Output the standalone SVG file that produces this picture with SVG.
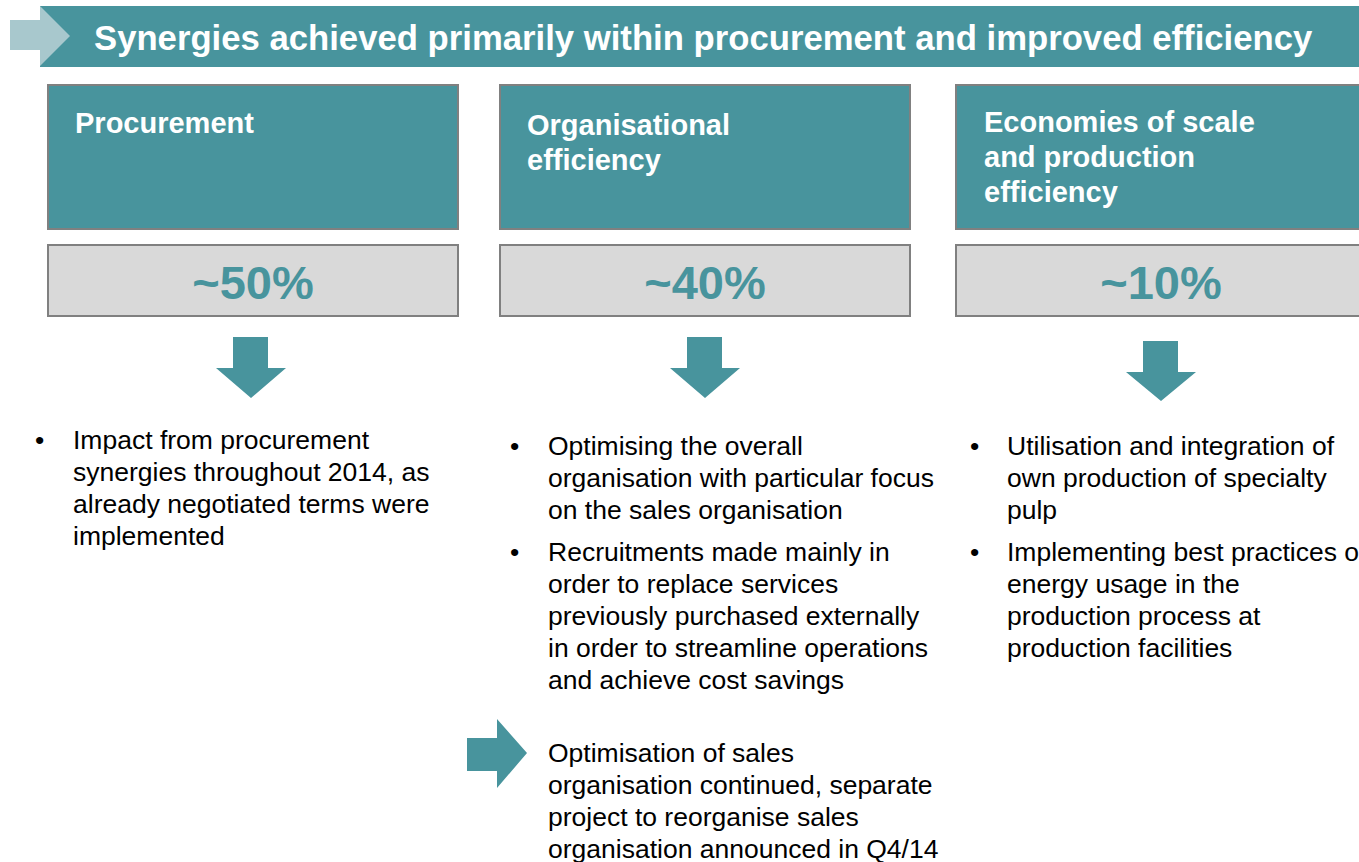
<svg xmlns="http://www.w3.org/2000/svg" width="1359" height="862" viewBox="0 0 1359 862">
<style>
.teal{fill:#48949d;stroke:#808080;stroke-width:2}
.gray{fill:#d9d9d9;stroke:#808080;stroke-width:2}
.ttl{font-family:"Liberation Sans",Arial,sans-serif;font-weight:bold;font-size:29px;fill:#ffffff}
.pct{font-family:"Liberation Sans",Arial,sans-serif;font-weight:bold;font-size:47px;fill:#48949d;text-anchor:middle}
.txt{font-family:"Liberation Sans",Arial,sans-serif;font-size:26.5px;fill:#000000}
.arr{fill:#48949d}
</style>
<rect width="1359" height="862" fill="#ffffff"/>
<g id="header">
<rect x="40" y="6" width="1330" height="61" fill="#48949d"/>
<rect x="10" y="20" width="31" height="30" fill="#a8c8cd"/>
<polygon points="40,6 70,36 40,66" fill="#a8c8cd"/>
<text x="94" y="50" font-family="'Liberation Sans',Arial,sans-serif" font-weight="bold" font-size="34.7" fill="#ffffff">Synergies achieved primarily within procurement and improved efficiency</text>
</g>
<g id="procurement">
<rect class="teal" x="48" y="85" width="410" height="144"/>
<text class="ttl" x="75" y="133">Procurement</text>
<rect class="gray" x="48" y="245" width="410" height="71"/>
<text class="pct" x="253" y="299">~50%</text>
</g>
<g id="organisational">
<rect class="teal" x="500" y="85" width="410" height="144"/>
<text class="ttl" x="527" y="135">Organisational</text>
<text class="ttl" x="527" y="170">efficiency</text>
<rect class="gray" x="500" y="245" width="410" height="71"/>
<text class="pct" x="705" y="299">~40%</text>
</g>
<g id="economies">
<rect class="teal" x="956" y="85" width="420" height="144"/>
<text class="ttl" x="984" y="132">Economies of scale</text>
<text class="ttl" x="984" y="167">and production</text>
<text class="ttl" x="984" y="202">efficiency</text>
<rect class="gray" x="956" y="245" width="420" height="71"/>
<text class="pct" x="1161" y="299">~10%</text>
</g>
<g id="connectors">
<polygon class="arr" points="233,337 268,337 268,368 286,368 251,398 216,368 233,368"/>
<polygon class="arr" points="687,337 722,337 722,368 740,368 705,398 670,368 687,368"/>
<polygon class="arr" points="1143,341 1178,341 1178,372 1196,372 1161,401 1126,372 1143,372"/>
<polygon class="arr" points="467,738 497,738 497,719 527,753 497,788 497,771 467,771"/>
</g>
<g id="bullets-procurement">
<text class="txt" x="35" y="449">•</text>
<text class="txt" x="73" y="449">Impact from procurement</text>
<text class="txt" x="73" y="481">synergies throughout 2014, as</text>
<text class="txt" x="73" y="513">already negotiated terms were</text>
<text class="txt" x="73" y="545">implemented</text>
</g>
<g id="bullets-organisational">
<text class="txt" x="510" y="455">•</text>
<text class="txt" x="548" y="455">Optimising the overall</text>
<text class="txt" x="548" y="487">organisation with particular focus</text>
<text class="txt" x="548" y="519">on the sales organisation</text>
<text class="txt" x="510" y="561">•</text>
<text class="txt" x="548" y="561">Recruitments made mainly in</text>
<text class="txt" x="548" y="593">order to replace services</text>
<text class="txt" x="548" y="625">previously purchased externally</text>
<text class="txt" x="548" y="657">in order to streamline operations</text>
<text class="txt" x="548" y="689">and achieve cost savings</text>
</g>
<g id="bullets-economies">
<text class="txt" x="970" y="455">•</text>
<text class="txt" x="1007" y="455">Utilisation and integration of</text>
<text class="txt" x="1007" y="487">own production of specialty</text>
<text class="txt" x="1007" y="519">pulp</text>
<text class="txt" x="970" y="561">•</text>
<text class="txt" x="1007" y="561">Implementing best practices on</text>
<text class="txt" x="1007" y="593">energy usage in the</text>
<text class="txt" x="1007" y="625">production process at</text>
<text class="txt" x="1007" y="657">production facilities</text>
</g>
<g id="sales-note">
<text class="txt" x="548" y="762">Optimisation of sales</text>
<text class="txt" x="548" y="794">organisation continued, separate</text>
<text class="txt" x="548" y="826">project to reorganise sales</text>
<text class="txt" x="548" y="858">organisation announced in Q4/14</text>
</g>
</svg>
